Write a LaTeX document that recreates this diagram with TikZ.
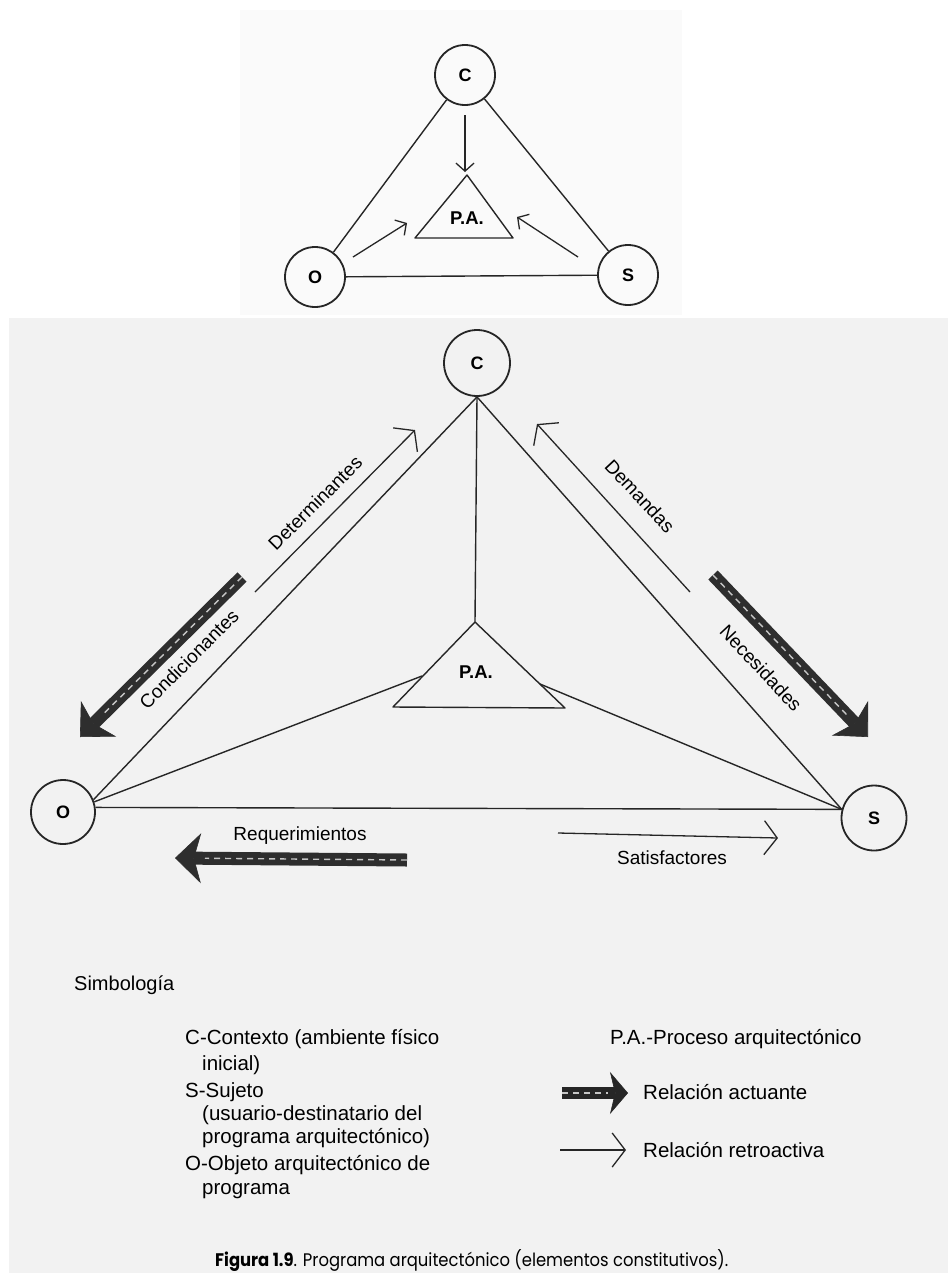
\documentclass[tikz,border=0pt]{standalone}
\usepackage{fontspec}
\usepackage{graphicx}
\setmainfont{Liberation Sans}
\newfontfamily\capfont{Poppins}
\usetikzlibrary{arrows.meta,calc}
\tikzset{
  circ/.style={circle, draw=black!85, line width=1.8pt, inner sep=0pt, font=\bfseries\fontsize{18}{18}\selectfont},
  edgeline/.style={line width=1.4pt, draw=black!85},
  retro/.style={line width=1.3pt, draw=black!85, -{Straight Barb[length=13pt,width=34pt]}},
  smallretro/.style={line width=1.3pt, draw=black!85, -{Straight Barb[length=8pt,width=18pt]}},
  actuante/.style={line width=13pt, draw=black!82, -{Stealth[length=26pt,width=50pt,inset=7pt,line width=0.6pt]}},
  legact/.style={line width=12pt, draw=black!85, -{Stealth[length=18pt,width=42pt,inset=5pt,line width=0.6pt]}},
  hatch/.style={line width=1.4pt, draw=gray!45, dash pattern=on 6pt off 5pt},
  lbl/.style={font=\fontsize{19}{22}\selectfont, inner sep=0pt},
  palbl/.style={font=\bfseries\fontsize{18.5}{20}\selectfont, inner sep=0pt},
  leg/.style={font=\fontsize{20.5}{24}\selectfont, anchor=base west, inner sep=0pt},
}
\begin{document}
\begin{tikzpicture}[x=1pt,y=-1pt]
% page and background
\fill[white] (0,0) rectangle (948,1278);
\useasboundingbox (0,0) rectangle (948,1278);
\fill[gray!10] (9,318) rectangle (948,1273);
\fill[gray!4] (240,10) rectangle (682,315);

% ================= top diagram =================
\node[circ, minimum size=60pt] (tC) at (465,75) {C};
\node[circ, minimum size=60pt] (tO) at (315,277) {O};
\node[circ, minimum size=60pt] (tS) at (628,275) {S};
\draw[edgeline] (tC) -- (tO);
\draw[edgeline] (tC) -- (tS);
\draw[edgeline] (tO) -- (tS);
\coordinate (tpa1) at (467,175);
\coordinate (tpa2) at (415,238);
\coordinate (tpa3) at (513,238);
\draw[edgeline, line join=round] (tpa1) -- (tpa2) -- (tpa3) -- cycle;
\node[palbl] (tPA) at (467,218) {P.A.};
\coordinate (tCa) at (465,115);
\coordinate (tCb) at (465,172);
\coordinate (tOa) at (353,257);
\coordinate (tOb) at (407,223);
\coordinate (tSa) at (578,257);
\coordinate (tSb) at (517,217);
\draw[smallretro] (tCa) -- (tCb);
\draw[smallretro] (tOa) -- (tOb);
\draw[smallretro] (tSa) -- (tSb);

% ================= bottom diagram =================
\node[circ, minimum size=66pt] (C) at (477,363) {C};
\node[circ, minimum size=64pt] (O) at (63,812) {O};
\node[circ, minimum size=65pt] (S) at (874,818) {S};
\coordinate (pa1) at (475,622);
\coordinate (pa2) at (393,707);
\coordinate (pa3) at (565,708);
\draw[edgeline, line join=round] (pa1) -- (pa2) -- (pa3) -- cycle;
\node[palbl] (PA) at (476,672) {P.A.};
\coordinate (opa) at (422,676);
\coordinate (spa) at (540,684);

\draw[edgeline] (C.south) -- (O.22);
\draw[edgeline] (C.south) -- (S.165);
\draw[edgeline] (C.south) -- (pa1);
\draw[edgeline] (O.18) -- (opa);
\draw[edgeline] (S.165) -- (spa);
\draw[edgeline] (O.8) -- (S.165);

% thin (retroactive) arrows
\coordinate (det1) at (255,592);
\coordinate (det2) at (415,430);
\coordinate (dem1) at (690,592);
\coordinate (dem2) at (537,424);
\coordinate (sat1) at (558,833);
\coordinate (sat2) at (778,838);
\draw[retro] (det1) -- (det2);
\draw[retro] (dem1) -- (dem2);
\draw[retro] (sat1) -- (sat2);

% thick (actuating) arrows
\coordinate (cond1) at (242,577);
\coordinate (cond2) at (80,737);
\coordinate (nec1) at (713,575);
\coordinate (nec2) at (868,737);
\coordinate (req1) at (407,860);
\coordinate (req2) at (175,858);
\draw[actuante] (cond1) -- (cond2);
\draw[actuante] (nec1) -- (nec2);
\draw[actuante] (req1) -- (req2);
\draw[hatch] (cond1) -- ($(cond2)!30pt!(cond1)$);
\draw[hatch] (nec1) -- ($(nec2)!30pt!(nec1)$);
\draw[hatch] (req1) -- ($(req2)!30pt!(req1)$);

% labels
\node[lbl, rotate=45] (lDet) at (315,503) {Determinantes};
\node[lbl, rotate=45] (lCond) at (189,659) {Condicionantes};
\node[lbl, rotate=-47] (lDem) at (640,496) {Demandas};
\node[lbl, rotate=-47] (lNec) at (761,668) {Necesidades};
\node[lbl] (lReq) at (300,836) {Requerimientos};
\node[lbl] (lSat) at (672,858) {Satisfactores};

% ================= legend =================
\node[leg, font=\fontsize{20}{24}\selectfont] (simb) at (74,990) {Simbología};
\node[leg] (l1) at (185,1044) {C-Contexto (ambiente físico};
\node[leg] (l2) at (202,1070) {inicial)};
\node[leg] (l3) at (185,1097) {S-Sujeto};
\node[leg] (l4) at (202,1120) {(usuario-destinatario del};
\node[leg] (l5) at (202,1143) {programa arquitectónico)};
\node[leg] (l6) at (185,1170) {O-Objeto arquitectónico de};
\node[leg] (l7) at (202,1194) {programa};
\node[leg] (r1) at (610,1044) {P.A.-Proceso arquitectónico};
\node[leg] (r2) at (643,1099) {Relación actuante};
\node[leg] (r3) at (643,1157) {Relación retroactiva};
\coordinate (la1) at (562,1093);
\coordinate (la2) at (628,1093);
\coordinate (lr1) at (560,1150);
\coordinate (lr2) at (626,1150);
\draw[legact] (la1) -- (la2);
\draw[hatch] (la1) -- ($(la2)!20pt!(la1)$);
\draw[retro] (lr1) -- (lr2);

% caption
\node[anchor=base west, inner sep=0pt] (cap) at (215,1266)
  {\resizebox{513pt}{17pt}{\capfont\textbf{Figura 1.9}. Programa arquitectónico (elementos constitutivos).}};
\end{tikzpicture}
\end{document}
